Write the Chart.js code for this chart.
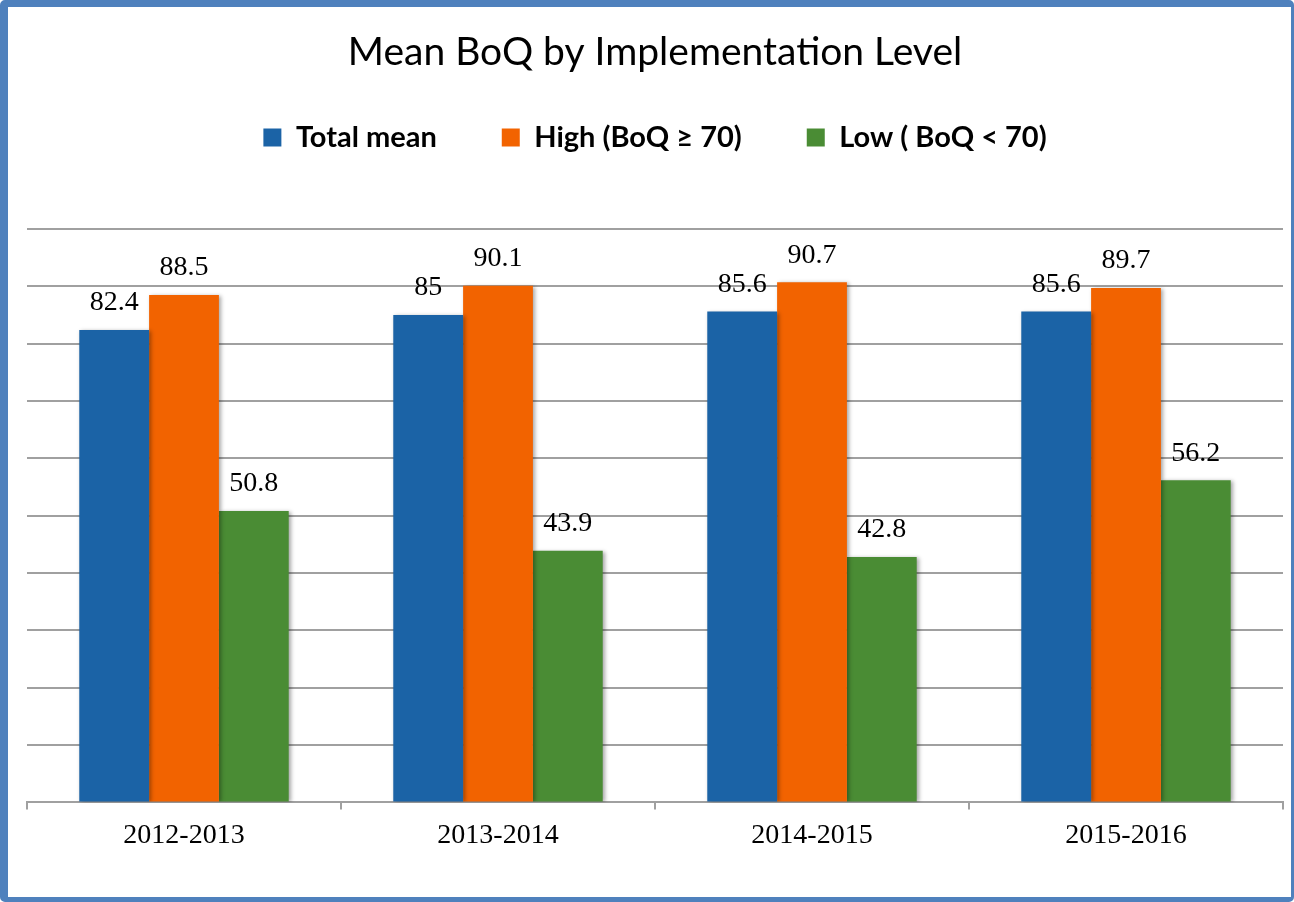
<!DOCTYPE html>
<html>
<head>
<meta charset="utf-8">
<title>Mean BoQ by Implementation Level</title>
<script src="https://cdn.jsdelivr.net/npm/chart.js"></script>
<style>
  html, body { margin: 0; padding: 0; background: #fff; }
  #frame {
    position: absolute; left: 0; top: 0;
    width: 1294px; height: 902px;
    box-sizing: border-box;
    border: solid #4f81bd;
    border-width: 7px 3px 5px 8px;
    border-radius: 5px;
    background: #fff;
  }
  #box { position: relative; width: 1283px; height: 890px; }
</style>
</head>
<body>
<div id="frame">
  <div id="box"><canvas id="chart"></canvas></div>
</div>
<script>
// data
const years = ['2012-2013', '2013-2014', '2014-2015', '2015-2016'];
const totalMean = [82.4, 85, 85.6, 85.6];
const highBoq = [88.5, 90.1, 90.7, 89.7];
const lowBoq = [50.8, 43.9, 42.8, 56.2];

const seriesNames = ['Total mean', 'High (BoQ \u2265 70)', 'Low ( BoQ < 70)'];
const seriesColors = ['#1b63a6', '#f26300', '#4a8c34'];

const gridGray = '#a0a0a0';

// bar shadow + value labels above bars
const barExtras = {
  id: 'barExtras',
  beforeDatasetsDraw(chart) {
    const ctx = chart.ctx;
    ctx.save();
    ctx.shadowColor = 'rgba(0,0,0,0.35)';
    ctx.shadowBlur = 4;
    ctx.shadowOffsetX = 2;
    ctx.shadowOffsetY = 1;
  },
  afterDatasetsDraw(chart) {
    const ctx = chart.ctx;
    ctx.restore();
    ctx.save();
    ctx.font = '28px "Liberation Serif"';
    ctx.fillStyle = '#000';
    ctx.textAlign = 'center';
    ctx.textBaseline = 'middle';
    chart.data.datasets.forEach((ds, i) => {
      chart.getDatasetMeta(i).data.forEach((bar, j) => {
        ctx.fillText(String(ds.data[j]), bar.x, bar.y - 27);
      });
    });
    ctx.restore();
  }
};

new Chart(document.getElementById('chart').getContext('2d'), {
  type: 'bar',
  data: {
    labels: years,
    datasets: [totalMean, highBoq, lowBoq].map((vals, i) => ({
      label: seriesNames[i],
      data: vals,
      backgroundColor: seriesColors[i],
      borderWidth: 0,
      categoryPercentage: 0.667,
      barPercentage: 1.0
    }))
  },
  options: {
    responsive: true,
    maintainAspectRatio: false,
    animation: false,
    layout: { padding: { left: 19, right: 8, top: 0, bottom: 36 } },
    plugins: {
      tooltip: { enabled: false },
      title: {
        display: true,
        text: 'Mean BoQ by Implementation Level',
        color: '#000',
        font: { family: 'Lato', size: 39, weight: 'normal', lineHeight: '12px' },
        padding: { top: 39, bottom: 0 }
      },
      legend: {
        display: true,
        position: 'top',
        labels: {
          color: '#000',
          font: { family: 'Lato', size: 29, weight: 'bold' },
          boxWidth: 18,
          boxHeight: 18,
          padding: 65
        }
      },
      // spacer between legend and plot area
      subtitle: {
        display: true,
        text: '',
        weight: 500,
        font: { size: 10, lineHeight: 1 },
        padding: { top: 0, bottom: 57 }
      }
    },
    scales: {
      x: {
        grid: {
          display: true,
          drawOnChartArea: false,
          drawTicks: true,
          tickLength: 7,
          color: gridGray,
          lineWidth: 2
        },
        border: { display: true, color: gridGray, width: 2 },
        ticks: {
          color: '#000',
          padding: 9,
          font: { family: 'Liberation Serif', size: 28 }
        }
      },
      y: {
        min: 0,
        max: 100,
        ticks: { display: false, stepSize: 10 },
        grid: { color: gridGray, lineWidth: 2, drawTicks: false },
        border: { display: false }
      }
    }
  },
  plugins: [barExtras]
});
</script>
</body>
</html>
